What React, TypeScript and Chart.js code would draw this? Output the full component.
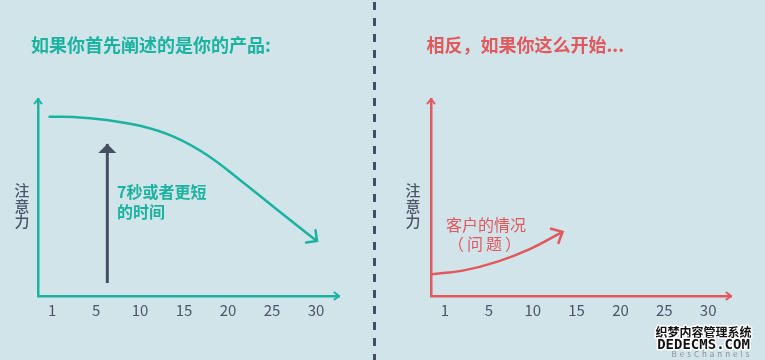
import React, { useEffect, useRef } from "react";
import { Chart, registerables } from "chart.js";

Chart.register(...registerables);

// ---- data ----
const xTickLabels = ["1", "5", "10", "15", "20", "25", "30"];
// left panel: attention when you start with your product (x = tick index)
const productX = [-0.08, 0.48, 1.24, 2.0, 2.76, 3.52, 4.27, 5.03, 5.79, 6.02];
const productY = [91.0, 90.9, 89.3, 86.4, 80.9, 71.6, 58.9, 45.3, 31.8, 27.9];
// dark vertical arrow: "7 seconds or less"
const spanX = [1.255, 1.255];
const spanY = [6.6, 77.2];
// right panel: attention when you start with the customer's problem
const problemX = [-0.32, 0.43, 1.18, 1.93, 2.68];
const problemY = [11.0, 13.0, 17.3, 23.8, 32.6];

const leftTitle = "如果你首先阐述的是你的产品:";
const rightTitle = "相反，如果你这么开始...";
const yAxisChars = ["注", "意", "力"];
const leftNote = ["7秒或者更短", "的时间"];
const rightNote = ["客户的情况", "（问题）"];
const watermark = ["织梦内容管理系统", "DEDECMS.COM", "BesChannels"];

// ---- styles ----
const TEAL = "#1bb3a0";
const RED = "#e2595d";
const DARK = "#454f63";
const TEXT = "#4a5568";
const BG = "#d0e4ea";
const FONT = "'Noto Sans CJK SC', 'Noto Sans', sans-serif";

type Txt = {
  t: string;
  x: number;
  y: number;
  size: number;
  weight?: string;
  color: string;
  align?: CanvasTextAlign;
  family?: string;
  stroke?: string;
  spacing?: string;
};

const decorPlugin = {
  id: "decor",
  afterDraw(chart: any, _args: any, opts: any) {
    const ctx: CanvasRenderingContext2D = chart.ctx;
    const { left, right, top, bottom } = chart.chartArea;
    ctx.save();
    // axis arrowheads
    ctx.strokeStyle = opts.axisColor;
    ctx.lineWidth = 2;
    ctx.lineCap = "round";
    ctx.lineJoin = "round";
    ctx.beginPath();
    ctx.moveTo(left - 3.5, top + 4.5);
    ctx.lineTo(left, top);
    ctx.lineTo(left + 3.5, top + 4.5);
    ctx.stroke();
    ctx.beginPath();
    ctx.moveTo(right - 4.5, bottom - 3.5);
    ctx.lineTo(right, bottom);
    ctx.lineTo(right - 4.5, bottom + 3.5);
    ctx.stroke();

    // dataset arrowheads
    (opts.heads || []).forEach((h: any) => {
      const meta = chart.getDatasetMeta(h.dataset);
      const pts = meta.data;
      if (!pts || pts.length < 2) return;
      const p = pts[pts.length - 1];
      const q = pts[pts.length - 2];
      let dx = p.x - (p.cp1x ?? q.x);
      let dy = p.y - (p.cp1y ?? q.y);
      if (Math.abs(dx) + Math.abs(dy) < 0.01) {
        dx = p.x - q.x;
        dy = p.y - q.y;
      }
      const len = Math.hypot(dx, dy) || 1;
      dx /= len;
      dy /= len;
      if (h.type === "open") {
        const a = (h.angle * Math.PI) / 180;
        const bx = -dx, by = -dy;
        const r1x = bx * Math.cos(a) - by * Math.sin(a);
        const r1y = bx * Math.sin(a) + by * Math.cos(a);
        const r2x = bx * Math.cos(-a) - by * Math.sin(-a);
        const r2y = bx * Math.sin(-a) + by * Math.cos(-a);
        ctx.strokeStyle = h.color;
        ctx.lineWidth = h.width;
        ctx.lineCap = "round";
        ctx.lineJoin = "miter";
        ctx.beginPath();
        ctx.moveTo(p.x + r1x * h.size, p.y + r1y * h.size);
        ctx.lineTo(p.x, p.y);
        ctx.lineTo(p.x + r2x * h.size, p.y + r2y * h.size);
        ctx.stroke();
      } else {
        const nx = -dy, ny = dx;
        const bx = p.x - dx * h.size, by = p.y - dy * h.size;
        ctx.fillStyle = h.color;
        ctx.beginPath();
        ctx.moveTo(p.x, p.y);
        ctx.lineTo(bx + nx * h.half, by + ny * h.half);
        ctx.lineTo(bx - nx * h.half, by - ny * h.half);
        ctx.closePath();
        ctx.fill();
      }
    });

    // divider
    if (opts.divider) {
      ctx.strokeStyle = opts.divider.color;
      ctx.lineWidth = 3;
      ctx.lineCap = "butt";
      ctx.setLineDash([8, 8]);
      ctx.beginPath();
      ctx.moveTo(opts.divider.x, 2);
      ctx.lineTo(opts.divider.x, chart.height);
      ctx.stroke();
      ctx.setLineDash([]);
    }

    // texts
    (opts.texts || []).forEach((tx: Txt) => {
      ctx.font = `${tx.weight || "normal"} ${tx.size}px ${tx.family || FONT}`;
      ctx.textAlign = tx.align || "left";
      ctx.textBaseline = "middle";
      (ctx as any).letterSpacing = tx.spacing || "0px";
      if (tx.stroke) {
        ctx.strokeStyle = tx.stroke;
        ctx.lineWidth = 3;
        ctx.lineJoin = "round";
        ctx.strokeText(tx.t, tx.x, tx.y);
      }
      ctx.fillStyle = tx.color;
      ctx.fillText(tx.t, tx.x, tx.y);
    });
    (ctx as any).letterSpacing = "0px";
    ctx.restore();
  },
};

type Series = { x: number[]; y: number[]; color: string; width: number };

function makeConfig(series: Series[], padLeft: number, padRight: number, axisColor: string, decor: any): any {
  return {
    type: "line",
    data: {
      datasets: series.map((s) => ({
        data: s.x.map((x, i) => ({ x, y: s.y[i] })),
        borderColor: s.color,
        borderWidth: s.width,
        pointRadius: 0,
        tension: 0.4,
        fill: false,
        clip: false,
        borderCapStyle: "butt",
      })),
    },
    options: {
      responsive: false,
      animation: false,
      events: [],
      layout: { padding: { left: padLeft, right: padRight, top: 99, bottom: 0 } },
      plugins: {
        legend: { display: false },
        tooltip: { enabled: false },
        title: { display: false },
        decor: { axisColor, ...decor },
      },
      scales: {
        x: {
          type: "linear",
          min: -0.32,
          max: 6.52,
          grid: { display: false, drawTicks: false },
          border: { display: true, color: axisColor, width: 2.5 },
          ticks: {
            color: TEXT,
            font: { family: FONT, size: 15 },
            padding: 5,
            maxRotation: 0,
            autoSkip: false,
            callback: (_v: any, i: number) => xTickLabels[i] ?? "",
          },
          afterBuildTicks: (s: any) => {
            s.ticks = xTickLabels.map((_, i) => ({ value: i }));
          },
          afterFit: (s: any) => {
            s.height = 64;
          },
        },
        y: {
          type: "linear",
          min: 0,
          max: 100,
          grid: { display: false, drawTicks: false },
          border: { display: true, color: axisColor, width: 2.5 },
          ticks: { display: false },
          afterFit: (s: any) => {
            s.width = 0;
          },
        },
      },
    },
    plugins: [decorPlugin],
  };
}

function yLabelTexts(x: number): Txt[] {
  const ys = [190, 206, 221.5];
  return yAxisChars.map((c, i) => ({ t: c, x, y: ys[i], size: 15, weight: "500", color: TEXT, align: "center" as CanvasTextAlign }));
}

export default function App() {
  const leftRef = useRef<HTMLCanvasElement>(null);
  const rightRef = useRef<HTMLCanvasElement>(null);

  useEffect(() => {
    const left = new Chart(
      leftRef.current as HTMLCanvasElement,
      makeConfig(
        [
          { x: productX, y: productY, color: TEAL, width: 2.5 },
          { x: spanX, y: spanY, color: DARK, width: 3 },
        ],
        38,
        41,
        TEAL,
        {
          heads: [
            { dataset: 0, type: "open", size: 11, angle: 45, color: TEAL, width: 2.5 },
            { dataset: 1, type: "solid", size: 9, half: 9, color: DARK },
          ],
          divider: { x: 374.5, color: DARK },
          texts: [
            { t: leftTitle, x: 31, y: 45, size: 18, weight: "bold", color: TEAL },
            ...yLabelTexts(22),
            { t: leftNote[0], x: 117, y: 192, size: 16, weight: "bold", color: TEAL },
            { t: leftNote[1], x: 117, y: 212, size: 16, weight: "bold", color: TEAL },
          ],
        }
      )
    );
    const right = new Chart(
      rightRef.current as HTMLCanvasElement,
      makeConfig([{ x: problemX, y: problemY, color: RED, width: 2.5 }], 51, 34, RED, {
        heads: [{ dataset: 0, type: "open", size: 12, angle: 42, color: RED, width: 2.5 }],
        texts: [
          { t: rightTitle, x: 46.5, y: 45, size: 18, weight: "bold", color: RED },
          ...yLabelTexts(33),
          { t: rightNote[0], x: 106, y: 225, size: 16, color: RED, align: "center" },
          { t: rightNote[1], x: 106, y: 243.5, size: 16, color: RED, align: "center", spacing: "3px" },
          { t: watermark[0], x: 323.5, y: 332, size: 12, weight: "bold", color: "#111", align: "center", stroke: "#ffffff" },
          { t: watermark[1], x: 323.5, y: 345, size: 14, weight: "bold", color: "#111", align: "center", stroke: "#ffffff", family: "'DejaVu Sans Mono', monospace" },
          { t: watermark[2], x: 332, y: 354, size: 8, color: "#8a8f96", align: "center", spacing: "3px" },
        ],
      })
    );
    return () => {
      left.destroy();
      right.destroy();
    };
  }, []);

  return (
    <div style={{ position: "fixed", left: 0, top: 0, width: 765, height: 360, background: BG, overflow: "hidden" }}>
      <canvas ref={leftRef} width={380} height={360} style={{ position: "absolute", left: 0, top: 0, width: 380, height: 360 }} />
      <canvas ref={rightRef} width={385} height={360} style={{ position: "absolute", left: 380, top: 0, width: 385, height: 360 }} />
    </div>
  );
}
